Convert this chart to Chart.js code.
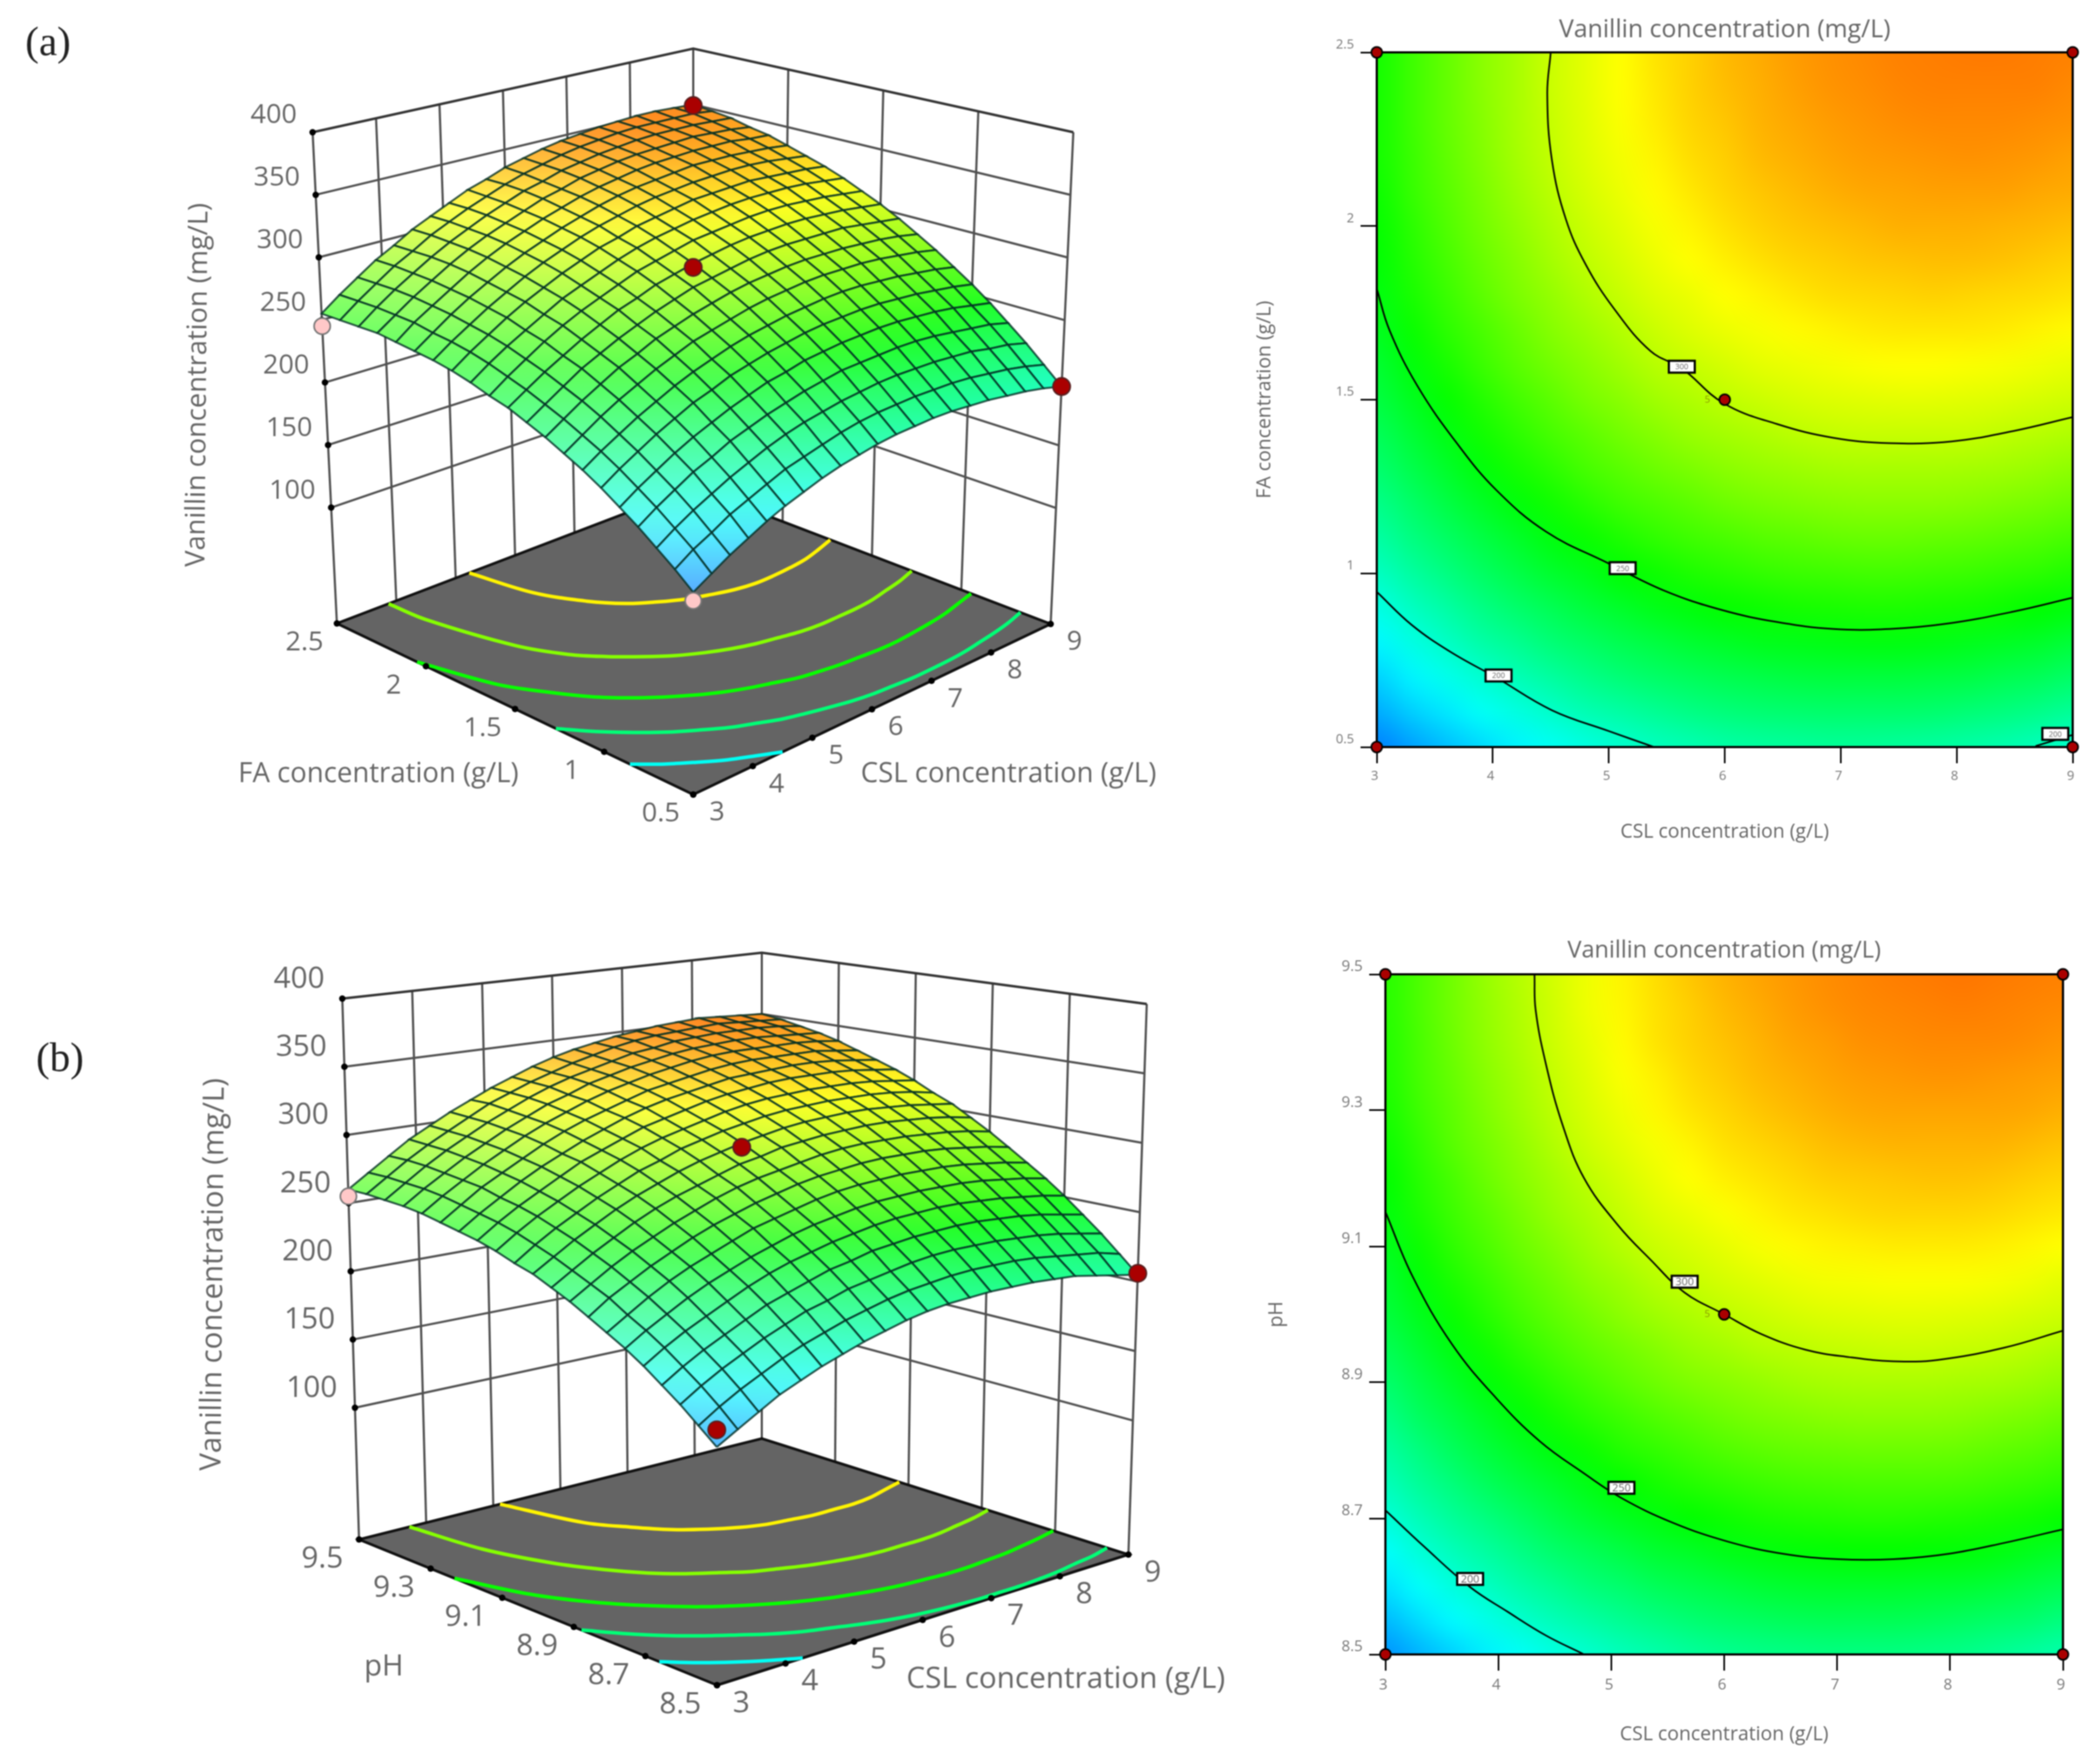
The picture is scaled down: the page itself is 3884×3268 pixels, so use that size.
<!DOCTYPE html>
<html>
<head>
<meta charset="utf-8">
<title>Vanillin concentration response surfaces</title>
<script src="https://cdn.jsdelivr.net/npm/chart.js@4"></script>
<style>
  html, body { margin: 0; padding: 0; background: #fff; }
  #page { position: relative; width: 3884px; height: 3268px; overflow: hidden; background: #fff; }
  canvas { position: absolute; filter: blur(1.1px); }
</style>
</head>
<body>
<div id="page">
  <canvas id="surfaceA" width="2250" height="1640" style="left:0;top:0"></canvas>
  <canvas id="contourA" width="1634" height="1640" style="left:2250px;top:0"></canvas>
  <canvas id="surfaceB" width="2280" height="1568" style="left:0;top:1700px"></canvas>
  <canvas id="contourB" width="1604" height="1568" style="left:2280px;top:1700px"></canvas>
</div>
<script>
// ---------- values ----------
const cslTicks = [3, 4, 5, 6, 7, 8, 9];
const faTicks = [0.5, 1, 1.5, 2, 2.5];
const phTicks = [8.5, 8.7, 8.9, 9.1, 9.3, 9.5];
const vanillinTicks = [100, 150, 200, 250, 300, 350, 400];
const floorLevels = [320, 285, 252, 219, 186];

// vanillin mg/L, rows from lowest FA (0.5) to highest (2.5), columns CSL 3 to 9
const vanillinA = [
  [150,158,166,173,180,186,191,196,200,203,206,208,209,210,210,209,208,206,204,201,197],
  [161,170,177,185,191,197,203,207,211,215,218,220,221,222,222,222,221,219,217,214,210],
  [171,180,188,195,202,208,214,219,223,226,229,231,233,234,234,234,233,232,229,227,223],
  [181,190,198,206,212,219,224,229,233,237,240,243,244,245,246,246,245,243,241,239,235],
  [190,199,207,215,222,228,234,239,244,247,251,253,255,256,257,257,256,255,253,250,247],
  [199,208,216,224,231,238,243,249,253,257,260,263,265,266,267,267,266,265,263,261,258],
  [207,216,224,232,239,246,252,257,262,266,269,272,274,276,277,277,276,275,273,271,268],
  [214,223,232,240,247,254,260,266,270,274,278,281,283,285,286,286,286,285,283,281,278],
  [221,230,239,247,255,261,268,273,278,282,286,289,291,293,294,294,294,293,292,290,287],
  [227,236,245,254,261,268,274,280,285,290,293,296,299,301,302,302,302,302,300,298,296],
  [233,242,251,259,267,274,281,286,292,296,300,303,306,308,309,310,310,309,308,306,304],
  [237,247,256,265,273,280,286,292,298,302,306,310,312,314,316,317,317,316,315,313,311],
  [242,252,261,269,277,285,291,297,303,308,312,315,318,320,322,323,323,323,322,320,318],
  [246,256,265,274,282,289,296,302,308,312,317,320,323,326,327,328,329,328,327,326,324],
  [249,259,268,277,285,293,300,306,312,317,321,325,328,330,332,333,334,334,333,331,329],
  [251,261,271,280,288,296,303,309,315,320,325,329,332,334,336,338,338,338,337,336,334],
  [253,264,273,282,291,299,306,312,318,323,328,332,335,338,340,341,342,342,342,340,339],
  [255,265,275,284,293,301,308,314,320,326,330,335,338,341,343,344,345,346,345,344,342],
  [255,266,276,285,294,302,309,316,322,328,332,337,340,343,345,347,348,348,348,347,346],
  [255,266,276,286,294,303,310,317,323,329,334,338,342,345,347,349,350,350,350,350,348],
  [255,266,276,286,294,303,310,317,324,329,335,339,343,346,348,350,351,352,352,351,350]
];

// vanillin mg/L, rows from lowest pH (8.5) to highest (9.5), columns CSL 3 to 9
const vanillinB = [
  [155,163,171,179,185,191,196,201,205,209,212,214,215,216,216,216,215,214,211,208,205],
  [165,174,182,189,196,202,207,212,216,220,223,225,227,228,228,228,227,225,223,221,217],
  [175,184,192,199,206,212,218,222,227,230,233,236,238,239,239,239,238,237,235,232,229],
  [184,193,201,208,215,222,227,232,237,240,244,246,248,249,250,250,249,248,246,243,240],
  [193,202,210,217,224,231,237,242,246,250,253,256,258,259,260,260,259,258,256,254,251],
  [201,210,218,226,233,239,245,250,255,259,262,265,267,268,269,269,269,268,266,264,261],
  [208,217,226,234,241,247,253,259,263,267,271,274,276,277,278,278,278,277,275,273,270],
  [215,225,233,241,248,255,261,266,271,275,279,282,284,286,287,287,287,286,284,282,279],
  [222,231,240,248,255,262,268,274,279,283,286,289,292,294,295,295,295,294,293,291,288],
  [228,237,246,254,262,269,275,280,285,290,293,297,299,301,302,303,303,302,301,299,296],
  [234,243,252,260,268,275,281,287,292,296,300,303,306,308,309,310,310,309,308,306,304],
  [238,248,257,265,273,280,287,292,298,302,306,309,312,314,315,316,316,316,315,313,310],
  [243,253,262,270,278,285,292,298,303,307,311,315,318,320,321,322,322,322,321,319,317],
  [247,257,266,274,282,290,296,302,308,312,316,320,323,325,327,328,328,328,327,325,323],
  [250,260,269,278,286,293,300,306,312,317,321,324,327,330,331,332,333,333,332,330,328],
  [253,263,273,281,289,297,304,310,315,320,325,328,331,334,336,337,337,337,337,335,333],
  [256,266,275,284,292,300,307,313,319,324,328,332,335,338,340,341,341,341,341,340,338],
  [258,268,277,286,294,302,309,316,321,327,331,335,338,341,343,344,345,345,344,343,342],
  [259,269,279,288,296,304,311,318,324,329,333,337,341,343,346,347,348,348,348,347,345],
  [260,270,280,289,297,305,313,319,325,330,335,339,343,346,348,349,350,351,350,349,348],
  [260,270,280,290,298,306,313,320,326,332,337,341,344,347,349,351,352,353,352,351,350]
];

// design points: [CSL, second factor, vanillin]
const redPointsA = [[9, 0.5, 197], [9, 2.5, 349], [6, 1.5, 297]];
const pinkPointsA = [[3, 2.5, 245], [3, 0.5, 144]];
const redPointsB = [[9, 8.5, 206], [6, 9, 297], [3, 8.5, 166]];
const pinkPointsB = [[3, 9.5, 255]];
const cornerPointsA = [[3, 0.5], [9, 0.5], [3, 2.5], [9, 2.5], [6, 1.5]];
const cornerPointsB = [[3, 8.5], [9, 8.5], [3, 9.5], [9, 9.5], [6, 9]];

// contour lines of the flat plots
const line300CslA = [4.5, 4.47, 4.51, 4.63, 4.8, 5.05, 5.36, 5.63, 5.99, 6.45, 6.94, 7.42, 7.96, 8.49, 9];
const line300FaA = [2.5, 2.38, 2.19, 2.02, 1.89, 1.76, 1.64, 1.59, 1.49, 1.43, 1.39, 1.375, 1.38, 1.41, 1.45];
const line250CslA = [3, 3.11, 3.35, 3.69, 4.03, 4.46, 4.99, 5.48, 5.97, 6.45, 6.94, 7.42, 7.91, 8.49, 9];
const line250FaA = [1.82, 1.7, 1.54, 1.375, 1.24, 1.12, 1.03, 0.95, 0.895, 0.86, 0.84, 0.84, 0.855, 0.89, 0.93];
const line200CslA = [3, 3.3, 3.64, 4.03, 4.51, 5, 5.39];
const line200FaA = [0.947, 0.852, 0.773, 0.7, 0.606, 0.546, 0.5];
const line200CornerCslA = [8.68, 9];
const line200CornerFaA = [0.503, 0.535];

const line300CslB = [4.32, 4.33, 4.42, 4.57, 4.76, 5.06, 5.35, 5.65, 6, 6.33, 6.72, 7.11, 7.5, 7.89, 8.48, 9];
const line300PhB = [9.5, 9.448, 9.369, 9.278, 9.2, 9.131, 9.08, 9.032, 9, 8.971, 8.948, 8.937, 8.931, 8.933, 8.951, 8.976];
const line250CslB = [3, 3.24, 3.59, 3.98, 4.37, 4.76, 5.09, 5.54, 6.03, 6.52, 7.01, 7.5, 7.99, 8.48, 9];
const line250PhB = [9.151, 9.056, 8.956, 8.877, 8.813, 8.766, 8.73, 8.694, 8.666, 8.648, 8.64, 8.64, 8.648, 8.664, 8.684];
const line200CslB = [3, 3.34, 3.75, 4.08, 4.42, 4.76];
const line200PhB = [8.712, 8.659, 8.599, 8.563, 8.528, 8.5];

const labelsFlatA = [["300", 5.63, 1.595], ["250", 5.12, 1.015], ["200", 4.05, 0.706], ["200", 8.85, 0.538]];
const labelsFlatB = [["300", 5.65, 9.048], ["250", 5.09, 8.745], ["200", 3.75, 8.611]];

const FONT = '"Open Sans", "Noto Sans", sans-serif';
const TEXT_GREY = "#666";

// ---------- colour ----------
const colorValues = [116, 183, 250, 317, 384];
const colorRgb = [[0, 0, 255], [0, 255, 255], [0, 255, 0], [255, 255, 0], [255, 0, 0]];

function rgbOf(v) {
  if (v <= colorValues[0]) return colorRgb[0];
  for (let k = 0; k < colorValues.length - 1; k++) {
    if (v <= colorValues[k + 1]) {
      const t = (v - colorValues[k]) / (colorValues[k + 1] - colorValues[k]);
      return colorRgb[k].map((c, n) => c + (colorRgb[k + 1][n] - c) * t);
    }
  }
  return colorRgb[colorRgb.length - 1];
}

function cssColor(rgb, white) {
  const m = white || 0;
  return "rgb(" + rgb.map((c) => Math.round(c + (255 - c) * m)).join(",") + ")";
}

// ---------- projection of the 3D box ----------
// ticks are evenly spaced along the box edges, so bilinear is enough here.
// corners given as front, right, back, left
function quadMap(q) {
  const [p0, p1, p2, p3] = q;
  return (u, v) => [0, 1].map((k) =>
    p0[k] * (1 - u) * (1 - v) + p1[k] * u * (1 - v) + p2[k] * u * v + p3[k] * (1 - u) * v);
}

function makeProjector(box) {
  const floor = quadMap(box.floor);
  const top = quadMap(box.top);
  return (u, v, z) => {
    const f = floor(u, v), t = top(u, v);
    const w = (z - box.zMin) / (box.zMax - box.zMin);
    return { x: f[0] + (t[0] - f[0]) * w, y: f[1] + (t[1] - f[1]) * w };
  };
}

function contourOnFloor(table, level) {
  const n = table.length - 1;
  const pts = [];
  const backRow = table[n], frontRow = table[0];
  for (let i = 0; i < n; i++) {
    if (backRow[i] < level && backRow[i + 1] >= level) {
      pts.push([(i + (level - backRow[i]) / (backRow[i + 1] - backRow[i])) / n, 1]);
    }
    if (frontRow[i] < level && frontRow[i + 1] >= level) {
      pts.push([(i + (level - frontRow[i]) / (frontRow[i + 1] - frontRow[i])) / n, 0]);
    }
  }
  for (let i = 0; i <= n; i++) {
    for (let j = 0; j < n; j++) {
      const lo = table[j][i], hi = table[j + 1][i];
      if (lo < level && hi >= level) {
        pts.push([i / n, (j + (level - lo) / (hi - lo)) / n]);
        break;
      }
    }
  }
  return pts.sort((p, q) => p[0] - q[0]);
}

function textPlugin(items) {
  return {
    id: "panelText",
    afterDatasetsDraw(chart) {
      const { ctx, scales } = chart;
      items.forEach((it) => {
        ctx.save();
        ctx.translate(scales.x.getPixelForValue(it.x), scales.y.getPixelForValue(it.y));
        if (it.rot) ctx.rotate(it.rot * Math.PI / 180);
        ctx.font = it.font || (it.size + "px " + FONT);
        ctx.fillStyle = it.color || TEXT_GREY;
        ctx.textAlign = "center";
        ctx.textBaseline = "middle";
        ctx.fillText(it.text, 0, 0);
        ctx.restore();
      });
    },
  };
}

function buildSurfaceChart(id, cfg) {
  const canvas = document.getElementById(id);
  const ctx = canvas.getContext("2d");
  const project = makeProjector(cfg.box);
  const U = (c) => (c - cfg.cslTicks[0]) / (cfg.cslTicks[cfg.cslTicks.length - 1] - cfg.cslTicks[0]);
  const V = (c) => (c - cfg.sideTicks[0]) / (cfg.sideTicks[cfg.sideTicks.length - 1] - cfg.sideTicks[0]);
  const zMin = cfg.box.zMin, zMax = cfg.box.zMax;
  const datasets = [];

  // later datasets have to paint over earlier ones
  function add(ds) {
    ds.order = -datasets.length;
    ds.pointRadius = ds.pointRadius || 0;
    datasets.push(ds);
  }
  function addLine(pts, color, width, tension) {
    add({ data: pts, showLine: true, borderColor: color, borderWidth: width, tension: tension || 0, fill: false });
  }

  // back walls
  const wall = "#505050";
  cfg.cslTicks.forEach((c) => addLine([project(U(c), 1, zMin), project(U(c), 1, zMax)], wall, 4));
  cfg.sideTicks.forEach((s) => addLine([project(1, V(s), zMin), project(1, V(s), zMax)], wall, 4));
  cfg.zTicks.forEach((z) => {
    addLine([project(0, 1, z), project(1, 1, z), project(1, 0, z)], z === zMax ? "#333" : wall, z === zMax ? 4.5 : 4);
  });

  // floor with its contours
  add({
    data: [project(0, 0, zMin), project(1, 0, zMin), project(1, 1, zMin), project(0, 1, zMin), project(0, 0, zMin)],
    showLine: true, fill: "shape", backgroundColor: "#646464", borderColor: "#111", borderWidth: 5,
  });
  floorLevels.forEach((level) => {
    const pts = contourOnFloor(cfg.table, level).map((p) => project(p[0], p[1], zMin));
    addLine(pts, cssColor(rgbOf(level)), 6.5, 0.35);
  });
  add({
    data: cfg.zTicks.map((z) => project(0, 1, z)), pointRadius: 6, pointBackgroundColor: "#000", pointBorderWidth: 0, showLine: false,
  });
  add({
    data: cfg.cslTicks.map((c) => project(U(c), 0, zMin)).concat(cfg.sideTicks.map((s) => project(0, V(s), zMin))),
    pointRadius: 6, pointBackgroundColor: "#000", pointBorderWidth: 0, showLine: false,
  });

  // response surface, back cells first
  const table = cfg.table, n = table.length - 1;
  const slope = (j, i) => {
    const a = table[j][Math.max(i - 1, 0)], b = table[j][Math.min(i + 1, n)];
    return (b - a) / ((Math.min(i + 1, n) - Math.max(i - 1, 0)) / n * 2);
  };
  const nodeColor = (j, i) => {
    const m = 0.13 + 0.27 * Math.min(Math.max(slope(j, i) / 100, 0), 1);
    return cssColor(rgbOf(table[j][i]), m);
  };
  for (let sum = 2 * n - 2; sum >= 0; sum--) {
    for (let j = 0; j < n; j++) {
      const i = sum - j;
      if (i < 0 || i >= n) continue;
      const p00 = project(i / n, j / n, table[j][i]);
      const p10 = project((i + 1) / n, j / n, table[j][i + 1]);
      const p11 = project((i + 1) / n, (j + 1) / n, table[j + 1][i + 1]);
      const p01 = project(i / n, (j + 1) / n, table[j + 1][i]);
      const top = canvas.offsetTop;
      const grad = ctx.createLinearGradient(p00.x, p00.y - top, p11.x, p11.y - top);
      grad.addColorStop(0, nodeColor(j, i));
      grad.addColorStop(1, nodeColor(j + 1, i + 1));
      add({
        data: [p00, p10, p11, p01, p00], showLine: true, fill: "shape", backgroundColor: grad,
        borderColor: "rgba(0,45,35,0.8)", borderWidth: 3.6,
      });
    }
  }

  // design points
  cfg.pink.forEach((p) => add({
    data: [project(U(p[0]), V(p[1]), p[2])], showLine: false, pointRadius: 15,
    pointBackgroundColor: "#ffc8c8", pointBorderColor: "#777", pointBorderWidth: 3, clip: false,
  }));
  cfg.red.forEach((p) => add({
    data: [project(U(p[0]), V(p[1]), p[2])], showLine: false, pointRadius: 16,
    pointBackgroundColor: "#aa0000", pointBorderColor: "#5a2020", pointBorderWidth: 3, clip: false,
  }));

  // tick labels follow the ticks
  const items = cfg.titles.slice();
  cfg.zTicks.forEach((z) => {
    const p = project(0, 1, z);
    items.push({ text: String(z), x: p.x + cfg.zOffset[0], y: p.y + cfg.zOffset[1], size: cfg.tickSize });
  });
  cfg.sideTicks.forEach((s) => {
    const p = project(0, V(s), zMin);
    items.push({ text: String(s), x: p.x + cfg.sideOffset[0], y: p.y + cfg.sideOffset[1], size: cfg.tickSize });
  });
  cfg.cslTicks.forEach((c) => {
    const p = project(U(c), 0, zMin);
    items.push({ text: String(c), x: p.x + cfg.cslOffset[0], y: p.y + cfg.cslOffset[1], size: cfg.tickSize });
  });

  return new Chart(canvas, {
    type: "scatter",
    data: { datasets },
    plugins: [textPlugin(items)],
    options: {
      responsive: false,
      animation: false,
      events: [],
      layout: { padding: 0, autoPadding: false },
      scales: {
        x: { display: false, min: 0, max: canvas.width },
        y: { display: false, reverse: true, min: canvas.offsetTop, max: canvas.offsetTop + canvas.height },
      },
      plugins: {
        legend: { display: false },
        tooltip: { enabled: false },
        filler: { propagate: false, drawTime: "beforeDatasetDraw" },
      },
    },
  });
}

function heatPlugin(table) {
  return {
    id: "heat",
    beforeDatasetsDraw(chart) {
      const n = table.length;
      const off = document.createElement("canvas");
      off.width = n;
      off.height = n;
      const offCtx = off.getContext("2d");
      const img = offCtx.createImageData(n, n);
      table.forEach((row, j) => {
        row.forEach((v, i) => {
          const rgb = rgbOf(v);
          const at = ((n - 1 - j) * n + i) * 4;
          img.data[at] = rgb[0];
          img.data[at + 1] = rgb[1];
          img.data[at + 2] = rgb[2];
          img.data[at + 3] = 255;
        });
      });
      offCtx.putImageData(img, 0, 0);
      const { ctx, chartArea: area } = chart;
      ctx.save();
      ctx.imageSmoothingEnabled = true;
      ctx.imageSmoothingQuality = "high";
      ctx.drawImage(off, 0.5, 0.5, n - 1, n - 1, area.left, area.top, area.width, area.height);
      ctx.strokeStyle = "#000";
      ctx.lineWidth = 4;
      ctx.strokeRect(area.left, area.top, area.width, area.height);
      ctx.restore();
    },
  };
}

function boxLabelPlugin(labels, size) {
  return {
    id: "boxLabels",
    afterDatasetsDraw(chart) {
      const { ctx, scales } = chart;
      labels.forEach(([text, cx, cy]) => {
        const px = scales.x.getPixelForValue(cx), py = scales.y.getPixelForValue(cy);
        ctx.save();
        ctx.fillStyle = "#fff";
        ctx.strokeStyle = "#000";
        ctx.lineWidth = 4;
        ctx.fillRect(px - 24, py - 11, 48, 22);
        ctx.strokeRect(px - 24, py - 11, 48, 22);
        ctx.fillStyle = "#666";
        ctx.font = size + "px " + FONT;
        ctx.textAlign = "center";
        ctx.textBaseline = "middle";
        ctx.fillText(text, px, py + 1);
        ctx.restore();
      });
    },
  };
}

function buildFlatChart(id, cfg) {
  const canvas = document.getElementById(id);
  const toPoints = (xs, ys) => xs.map((x, k) => ({ x, y: ys[k] }));
  const datasets = cfg.lines.map(([xs, ys], k) => ({
    data: toPoints(xs, ys), showLine: true, borderColor: "#000", borderWidth: 3, pointRadius: 0,
    tension: 0.4, order: 5 + k,
  }));
  datasets.push({
    data: cfg.points.map((p) => ({ x: p[0], y: p[1] })), showLine: false, pointRadius: 10,
    pointBackgroundColor: "#aa0000", pointBorderColor: "#000", pointBorderWidth: 3, clip: false, order: 1,
  });
  const axisScale = (ticks, extra) => Object.assign({
    type: "linear",
    min: ticks[0],
    max: ticks[ticks.length - 1],
    afterBuildTicks: (s) => { s.ticks = ticks.map((value) => ({ value })); },
    border: { color: "#000", width: 4 },
    grid: { drawOnChartArea: false, color: "#000", lineWidth: 3, tickLength: 30 },
  }, extra);
  return new Chart(canvas, {
    type: "scatter",
    data: { datasets },
    plugins: [heatPlugin(cfg.table), boxLabelPlugin(cfg.labels, cfg.boxSize),
      textPlugin([{ text: "5", x: cfg.five[0], y: cfg.five[1], size: 18, color: "#8a9a00" }])],
    options: {
      responsive: false,
      animation: false,
      events: [],
      layout: { padding: { left: 0, right: cfg.rightPad, top: 0, bottom: 0 }, autoPadding: false },
      scales: {
        x: axisScale(cfg.cslTicks, {
          afterFit: (s) => { s.height = cfg.xBox; },
          ticks: { color: "#777", font: { family: FONT, size: cfg.tickSize }, maxRotation: 0, padding: cfg.xTickPad, labelOffset: -4, callback: (v) => String(v) },
          title: { display: true, text: "CSL concentration (g/L)", color: TEXT_GREY, font: { family: FONT, size: cfg.axisSize }, padding: { top: 0, bottom: cfg.xTitlePad } },
        }),
        y: axisScale(cfg.sideTicks, {
          afterFit: (s) => { s.width = cfg.yBox; },
          ticks: { color: "#777", font: { family: FONT, size: cfg.tickSize }, padding: 12, labelOffset: -14, callback: (v) => String(v) },
          title: { display: true, text: cfg.sideTitle, color: TEXT_GREY, font: { family: FONT, size: cfg.axisSize }, padding: { top: cfg.yTitlePad, bottom: 0 } },
        }),
      },
      plugins: {
        legend: { display: false },
        tooltip: { enabled: false },
        title: {
          display: true, text: "Vanillin concentration (mg/L)", color: TEXT_GREY, fullSize: false,
          font: { family: FONT, size: cfg.titleSize, weight: "normal" }, padding: cfg.titlePad,
        },
      },
    },
  });
}

buildSurfaceChart("surfaceA", {
  table: vanillinA,
  cslTicks, sideTicks: faTicks, zTicks: vanillinTicks,
  box: {
    floor: [[1284, 1472], [1946, 1156], [1284, 903], [624, 1155]],
    top: [[1284, 440], [1988, 245], [1284, 90], [579, 245]],
    zMin: 7.4, zMax: 400,
  },
  red: redPointsA, pink: pinkPointsA,
  tickSize: 50,
  zOffset: [-72, -31], sideOffset: [-60, 36], cslOffset: [44, 34],
  titles: [
    { text: "(a)", x: 89, y: 82, font: "76px 'Liberation Serif'", color: "#222" },
    { text: "Vanillin concentration (mg/L)", x: 367, y: 713, size: 50.5, rot: -89.5 },
    { text: "FA concentration (g/L)", x: 701, y: 1434, size: 51 },
    { text: "CSL concentration (g/L)", x: 1868, y: 1434, size: 51 },
  ],
});

buildSurfaceChart("surfaceB", {
  table: vanillinB,
  cslTicks, sideTicks: phTicks, zTicks: vanillinTicks,
  box: {
    floor: [[1328, 3122], [2090, 2880], [1411, 2665], [665, 2852]],
    top: [[1327, 1968], [2124, 1860], [1411, 1765], [634, 1850]],
    zMin: 3.4, zMax: 400,
  },
  red: redPointsB, pink: pinkPointsB,
  tickSize: 55,
  zOffset: [-80, -36], sideOffset: [-68, 36], cslOffset: [45, 34],
  titles: [
    { text: "(b)", x: 111, y: 1964, font: "76px 'Liberation Serif'", color: "#222" },
    { text: "Vanillin concentration (mg/L)", x: 396, y: 2361, size: 54.5, rot: -89.5 },
    { text: "pH", x: 711, y: 3089, size: 54 },
    { text: "CSL concentration (g/L)", x: 1974, y: 3111, size: 55 },
  ],
});

buildFlatChart("contourA", {
  table: vanillinA, cslTicks, sideTicks: faTicks, sideTitle: "FA concentration (g/L)",
  lines: [[line300CslA, line300FaA], [line250CslA, line250FaA], [line200CslA, line200FaA], [line200CornerCslA, line200CornerFaA]],
  points: cornerPointsA, labels: labelsFlatA, boxSize: 14, five: [5.85, 1.5],
  rightPad: 45, xBox: 256, yBox: 300, xTickPad: 10, xTitlePad: 77, yTitlePad: 71,
  tickSize: 24, axisSize: 36, titleSize: 46, titlePad: { top: 28.4, bottom: 13.4 },
});

buildFlatChart("contourB", {
  table: vanillinB, cslTicks, sideTicks: phTicks, sideTitle: "pH",
  lines: [[line300CslB, line300PhB], [line250CslB, line250PhB], [line200CslB, line200PhB]],
  points: cornerPointsB, labels: labelsFlatB, boxSize: 20, five: [5.85, 9],
  rightPad: 63, xBox: 203, yBox: 286, xTickPad: 10, xTitlePad: 33, yTitlePad: 63,
  tickSize: 28, axisSize: 36, titleSize: 43.5, titlePad: { top: 36, bottom: 16.8 },
});
</script>
</body>
</html>
